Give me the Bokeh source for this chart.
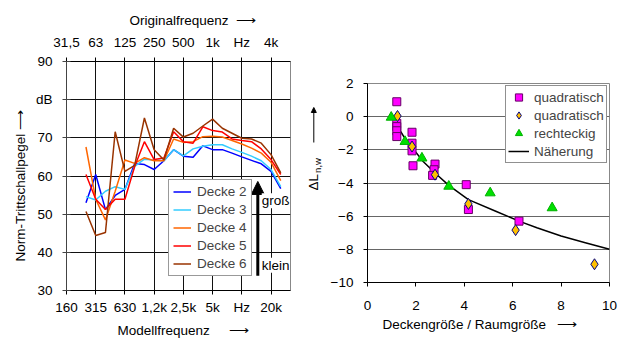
import numpy as np
from bokeh.plotting import figure
from bokeh.layouts import row
from bokeh.models import (Range1d, LinearAxis, FixedTicker, Label, Arrow,
                          NormalHead, Legend, LegendItem, Title)
from bokeh.core.properties import value
from bokeh.embed import file_html
from bokeh.resources import INLINE

FONT = "Liberation Sans"
FS = "13.5px"
NB = "\u00a0"
ARR = "\u27f6"
H = 340

# ---------------- data: left chart ----------------
# third-octave band number (0 = 160 Hz model frequency)
band_index = [2, 3, 4, 5, 6, 7, 8, 9, 10, 11, 12, 13, 14, 15, 16, 17, 18, 19, 20, 21, 22]
decke2 = [53.0, 60.4, 51.2, 54.9, 56.5, 63.3, 63.0, 61.7, 64.0, 66.9, 65.2, 64.9, 67.9, 66.9, 66.9, 66.0, 65.0, 64.1, 63.2, 61.2, 56.7]
decke3 = [54.6, 53.7, 56.0, 57.2, 56.5, 62.5, 64.4, 64.2, 64.0, 66.9, 65.3, 67.1, 67.8, 68.2, 68.2, 67.1, 66.2, 65.2, 64.0, 61.7, 57.2]
decke4 = [67.6, 53.9, 48.5, 56.0, 64.2, 63.3, 64.8, 64.0, 64.0, 69.7, 68.8, 69.0, 70.3, 70.4, 70.2, 69.3, 68.4, 67.3, 66.0, 63.6, 58.8]
decke5 = [60.4, 53.9, 51.2, 53.9, 53.9, 62.5, 69.0, 64.3, 64.7, 71.6, 69.0, 68.6, 72.9, 71.9, 71.5, 69.7, 69.3, 69.0, 67.1, 64.3, 60.4]
decke6 = [50.7, 44.4, 45.2, 71.6, 61.2, 62.8, 75.2, 66.9, 64.2, 72.5, 70.2, 71.2, 73.1, 74.9, 72.5, 71.2, 69.9, 69.7, 68.6, 65.6, 60.8]
series_names = ["Decke 2", "Decke 3", "Decke 4", "Decke 5", "Decke 6"]
series_colors = ["#0000FF", "#33CCFF", "#FF6600", "#FF0000", "#993300"]

octave_ticks = [0, 3, 6, 9, 12, 15, 18, 21]
model_labels = ["160", "315", "630", "1,2k", "2,5k", "5k", "Hz", "20k"]
orig_labels = ["31,5", "63", "125", "250", "500", "1k", "Hz", "4k"]
level_ticks = [30, 40, 50, 60, 70, 80, 90]

# ---------------- data: right chart ----------------
quad1_x = [1.21, 1.21, 1.21, 1.21, 1.21, 1.84, 1.84, 1.84, 1.88, 2.79, 2.75, 2.69, 4.08, 4.17, 6.26]
quad1_y = [0.9, -0.4, -0.6, -0.85, -1.2, -0.94, -1.6, -2.06, -2.96, -2.86, -3.2, -3.54, -4.1, -5.6, -6.3]
quad2_x = [1.24, 1.84, 2.79, 4.17, 6.12, 9.38]
quad2_y = [0.04, -1.8, -3.5, -5.26, -6.84, -8.9]
rect_x = [0.98, 1.55, 2.25, 3.36, 5.07, 7.63]
rect_y = [-0.04, -1.5, -2.5, -4.2, -4.6, -5.5]
fit_x = [1.25, 1.5, 1.84, 2.3, 2.79, 3.36, 4.17, 5.3, 6.26, 7.0, 8.0, 9.0, 10.0]
fit_y = [-0.6, -1.2, -1.85, -2.7, -3.4, -4.14, -5.0, -5.7, -6.3, -6.7, -7.2, -7.6, -8.0]


def style_axis(ax, tick_in, tick_out, standoff, color="black"):
    ax.axis_line_color = color
    ax.major_tick_line_color = color
    ax.major_tick_in = tick_in
    ax.major_tick_out = tick_out
    ax.minor_tick_line_color = None
    ax.major_label_text_font = FONT
    ax.major_label_text_font_size = FS
    ax.major_label_text_color = "black"
    ax.major_label_standoff = standoff


def add_title(p, place, text, align, offset, standoff, size=FS):
    t = Title(text=text, align=align, offset=offset, standoff=standoff,
              text_font=FONT, text_font_size=size, text_font_style="normal",
              text_color="black")
    p.add_layout(t, place)
    return t


def no_frame_align(p):
    try:
        p.frame_align = False
    except Exception:
        pass

# ================= left figure (page x 0..305) =================
p1 = figure(width=305, height=H, x_range=Range1d(0, 23), y_range=Range1d(30, 90),
            output_backend="svg", toolbar_location=None,
            min_border_left=66, min_border_right=15, min_border_top=61, min_border_bottom=H - 292)
no_frame_align(p1)
p1.background_fill_color = "white"
p1.border_fill_color = "white"
p1.outline_line_color = "#888888"


def lp(px, py):
    # page pixel -> left data coords
    return (px - 66) * 23 / 224, 90 - (py - 61) * 60 / 231


xa = p1.xaxis[0]
xa.ticker = FixedTicker(ticks=octave_ticks)
xa.major_label_overrides = {t: s for t, s in zip(octave_ticks, model_labels)}
style_axis(xa, 0, 4, 5)

ya = p1.yaxis[0]
ya.ticker = FixedTicker(ticks=level_ticks)
ya.major_label_overrides = {80: "dB"}
style_axis(ya, 4, 4, 10, "#444444")

top = LinearAxis(ticker=FixedTicker(ticks=octave_ticks),
                 major_label_overrides={t: s for t, s in zip(octave_ticks, orig_labels)})
style_axis(top, 0, 4, 8)
p1.add_layout(top, "above")

p1.xgrid.ticker = FixedTicker(ticks=octave_ticks)
p1.ygrid.ticker = FixedTicker(ticks=level_ticks)
for g in (p1.xgrid[0], p1.ygrid[0]):
    g.grid_line_color = "#111111"
    g.grid_line_width = 1

renderers = []
for vals, col in zip([decke2, decke3, decke4, decke5, decke6], series_colors):
    r = p1.line(band_index, vals, line_color=col, line_width=1.5)
    renderers.append(r)

leg1 = Legend(items=[LegendItem(label=n, renderers=[r]) for n, r in zip(series_names, renderers)],
              location=(102, 14), padding=4, spacing=3, label_height=15, glyph_height=15,
              glyph_width=18, label_standoff=6, margin=0,
              label_text_font=FONT, label_text_font_size=FS,
              border_line_color="#333333", border_line_width=1,
              background_fill_color="white", background_fill_alpha=1.0)
p1.add_layout(leg1)

# big arrow  (klein -> groß)
ax0, ay0 = lp(257.3, 277)
ax1, ay1 = lp(257.3, 182)
p1.add_layout(Arrow(end=NormalHead(size=13, fill_color="black", line_color="black"),
                    x_start=ax0, y_start=ay0, x_end=ax1, y_end=ay1,
                    line_width=3, line_color="black"))

for txt, py in (("groß", 201.5), ("klein", 266.5)):
    x, y = lp(289, py)
    p1.add_layout(Label(x=x, y=y, text=txt, text_font=FONT, text_font_size=FS,
                        text_align="right", text_baseline="middle", text_color="black",
                        background_fill_color="white"))

add_title(p1, "above", "Originalfrequenz" + NB * 2 + ARR, "left", 63, 8)
add_title(p1, "below", "Modellfrequenz" + NB * 5 + ARR, "left", 51, 6)
add_title(p1, "left", "Norm-Trittschallpegel" + NB + ARR, "left", 29, 10)

# ================= y-title strip for the right chart (page x 305..327) =================
WL = 22
pl = figure(width=WL, height=H, x_range=Range1d(0, WL), y_range=Range1d(0, H),
            output_backend="svg", toolbar_location=None, x_axis_type=None, y_axis_type=None,
            min_border_left=0, min_border_right=0, min_border_top=0, min_border_bottom=0)
no_frame_align(pl)
pl.outline_line_color = None
pl.grid.visible = False
pl.background_fill_color = "white"
pl.border_fill_color = "white"
X0 = 305
pl.text(x=[313.3 - X0], y=[H - 181.7], text=["ΔL"], angle=np.pi / 2,
        text_font=value(FONT), text_font_size="13.5px", text_align="center",
        text_baseline="middle", text_color="black")
pl.text(x=[317.0 - X0], y=[H - 165.0], text=["n,w"], angle=np.pi / 2,
        text_font=value(FONT), text_font_size="9.5px", text_align="center",
        text_baseline="middle", text_color="black")
pl.add_layout(Arrow(end=NormalHead(size=5, fill_color="black", line_color="black"),
                    x_start=313.3 - X0, y_start=H - 142, x_end=313.3 - X0, y_end=H - 107,
                    line_width=1, line_color="black"))

# ================= right figure (page x 327..618) =================
p2 = figure(width=291, height=H, x_range=Range1d(0, 10), y_range=Range1d(-10, 2),
            output_backend="svg", toolbar_location=None,
            min_border_left=35, min_border_right=9, min_border_top=83, min_border_bottom=H - 282)
no_frame_align(p2)
p2.background_fill_color = "white"
p2.border_fill_color = "white"
p2.outline_line_color = "#888888"

xb = p2.xaxis[0]
xb.ticker = FixedTicker(ticks=[0, 2, 4, 6, 8, 10])
style_axis(xb, 0, 4, 14)
yb = p2.yaxis[0]
yb.ticker = FixedTicker(ticks=[-10, -8, -6, -4, -2, 0, 2])
style_axis(yb, 0, 4, 10)
p2.xgrid.grid_line_color = None
p2.ygrid.ticker = FixedTicker(ticks=[-10, -8, -6, -4, -2, 0, 2])
p2.ygrid.grid_line_color = "#666666"
p2.ygrid.grid_line_width = 1

r_fit = p2.line(fit_x, fit_y, line_color="black", line_width=1.5)
r_q1 = p2.scatter(quad1_x, quad1_y, marker="square", size=8,
                  fill_color="#FF00FF", line_color="#660066", line_width=1)
r_q2 = p2.scatter(quad2_x, quad2_y, marker="diamond", size=11,
                  fill_color="#FFC000", line_color="#000080", line_width=1)
r_re = p2.scatter(rect_x, rect_y, marker="triangle", size=10,
                  fill_color="#00E000", line_color="#00B000", line_width=1)

leg2 = Legend(items=[LegendItem(label="quadratisch", renderers=[r_q1]),
                     LegendItem(label="quadratisch", renderers=[r_q2]),
                     LegendItem(label="rechteckig", renderers=[r_re]),
                     LegendItem(label="Näherung", renderers=[r_fit])],
              location=(138, 119), padding=2, spacing=0, label_height=18, glyph_height=18,
              glyph_width=21, label_standoff=5, margin=0,
              label_text_font=FONT, label_text_font_size=FS,
              border_line_color="#222222", border_line_width=1,
              background_fill_color="white", background_fill_alpha=1.0)
p2.add_layout(leg2)

add_title(p2, "below", "Deckengröße / Raumgröße" + NB * 3 + ARR, "left", 15, 5)

layout = row(p1, pl, p2)
open("out.html", "w").write(file_html(layout, INLINE))
